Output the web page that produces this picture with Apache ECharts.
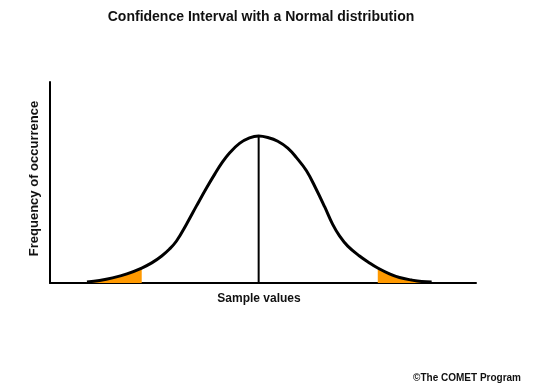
<!DOCTYPE html>
<html>
<head>
<meta charset="utf-8">
<script src="https://cdn.jsdelivr.net/npm/echarts@6/dist/echarts.min.js"></script>
<style>html,body{margin:0;padding:0;background:#fff}#c{width:534px;height:389px}</style>
</head>
<body>
<div id="c"></div>
<script>
// Curve values (x in arbitrary sample units, y frequency)
const curveX = [-3.95, -3.66, -3.36, -3.03, -2.69, -2.46, -2.23, -2.05, -1.89, -1.66, -1.43, -1.20, -1.01, -0.85, -0.67, -0.44, -0.21, 0,
                0.21, 0.44, 0.67, 0.87, 1.10, 1.31, 1.52, 1.70, 1.86, 2.05, 2.32, 2.55, 2.74, 3.01, 3.24, 3.52, 3.75, 3.98];
const curveY = [0.003, 0.007, 0.014, 0.025, 0.041, 0.055, 0.074, 0.093, 0.115, 0.161, 0.211, 0.260, 0.298, 0.328, 0.356, 0.382, 0.397, 0.402,
                0.398, 0.388, 0.369, 0.343, 0.307, 0.260, 0.208, 0.161, 0.129, 0.101, 0.074, 0.055, 0.041, 0.025, 0.015, 0.008, 0.004, 0.003];
const leftTailEnd = -2.69;
const rightTailStart = 2.74;
const meanX = 0;

const curve = curveX.map((x, i) => [x, curveY[i]]);
const leftTail = curve.filter(p => p[0] <= leftTailEnd);
const rightTail = curve.filter(p => p[0] >= rightTailStart);
const peak = curveY[curveX.indexOf(meanX)];

const chart = echarts.init(document.getElementById('c'));
const font = 'Liberation Sans, Arial, sans-serif';
chart.setOption({
  animation: false,
  backgroundColor: '#ffffff',
  title: [
    { text: 'Confidence Interval with a Normal distribution', left: 256, textAlign: 'center', top: 5,
      textStyle: { fontFamily: font, fontSize: 14, fontWeight: 'bold', color: '#111' } },
    { text: '©The COMET Program', right: 8, top: 368,
      textStyle: { fontFamily: font, fontSize: 10, fontWeight: 'bold', color: '#111' } }
  ],
  grid: { left: 50, right: 58, top: 82, bottom: 106, containLabel: false },
  xAxis: {
    type: 'value', min: -4.8, max: 5.0,
    name: 'Sample values', nameLocation: 'middle', nameGap: 10,
    nameTextStyle: { fontFamily: font, fontSize: 12, fontWeight: 'bold', color: '#111', padding: [0, 8, 0, 0] },
    axisLine: { show: true, onZero: false, lineStyle: { color: '#000', width: 2 } },
    axisTick: { show: false }, axisLabel: { show: false }, splitLine: { show: false }
  },
  yAxis: {
    type: 'value', min: 0, max: 0.55,
    name: 'Frequency of occurrence', nameLocation: 'middle', nameGap: 9,
    nameTextStyle: { fontFamily: font, fontSize: 13, fontWeight: 'bold', color: '#111', padding: [0, 0, 0, 8] },
    axisLine: { show: true, onZero: false, lineStyle: { color: '#000', width: 2 } },
    axisTick: { show: false }, axisLabel: { show: false }, splitLine: { show: false }
  },
  series: [
    { type: 'line', data: leftTail, smooth: 0.4, symbol: 'none', lineStyle: { width: 0 },
      areaStyle: { color: '#FF9900', opacity: 1 }, z: 1 },
    { type: 'line', data: rightTail, smooth: 0.4, symbol: 'none', lineStyle: { width: 0 },
      areaStyle: { color: '#FF9900', opacity: 1 }, z: 1 },
    { type: 'line', data: curve, smooth: 0.4, symbol: 'none',
      lineStyle: { color: '#000', width: 3 }, z: 3 },
    { type: 'line', data: [[meanX, 0], [meanX, peak]], symbol: 'none',
      lineStyle: { color: '#000', width: 2 }, z: 2 }
  ]
});
</script>
</body>
</html>
